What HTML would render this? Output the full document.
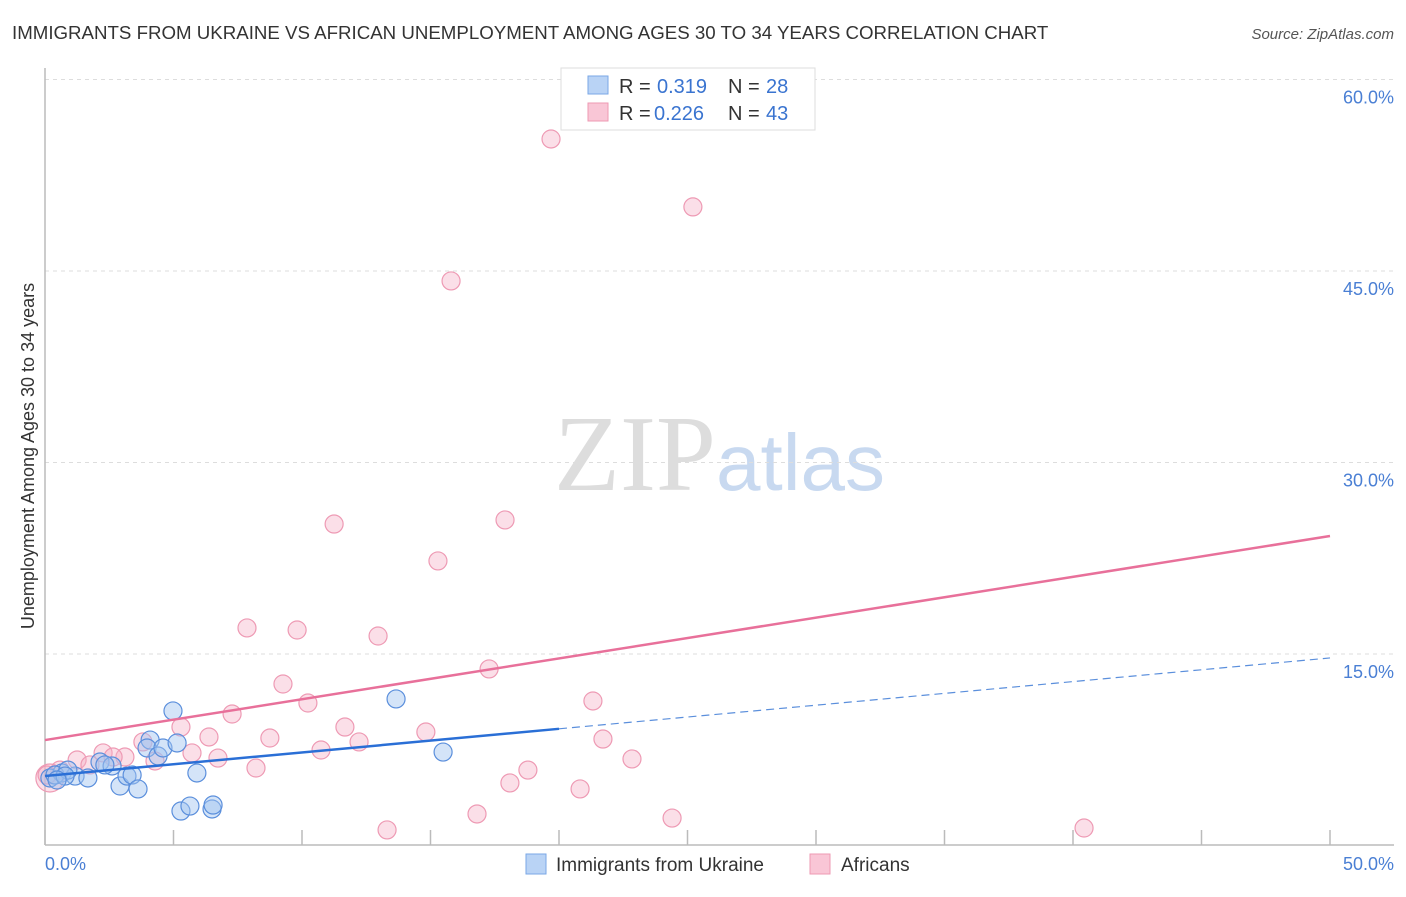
<!DOCTYPE html>
<html><head><meta charset="utf-8"><style>
body{margin:0;background:#fff;font-family:"Liberation Sans",sans-serif;}
</style></head><body>
<svg id="c" width="1406" height="892" xmlns="http://www.w3.org/2000/svg">
<text x="12" y="39" font-size="18.7" fill="#333">IMMIGRANTS FROM UKRAINE VS AFRICAN UNEMPLOYMENT AMONG AGES 30 TO 34 YEARS CORRELATION CHART</text>
<text x="1394" y="39" font-size="15" fill="#555" font-style="italic" text-anchor="end">Source: ZipAtlas.com</text>
<text x="716" y="490" font-size="108" fill="#ddd" text-anchor="end" font-family="Liberation Serif,serif">ZIP</text>
<text x="716" y="490" font-size="80" fill="#c8d9f0">atlas</text>
<g id="grid"></g><g id="axes"></g><g id="pts"></g><g id="lines"></g>
<text transform="translate(34,456) rotate(-90)" font-size="18" fill="#333" text-anchor="middle">Unemployment Among Ages 30 to 34 years</text>
<text x="45" y="870" font-size="18" fill="#4a7fd4">0.0%</text>
<text x="1394" y="870" font-size="18" fill="#4a7fd4" text-anchor="end">50.0%</text>
<g>
<rect x="561" y="68" width="254" height="62" fill="#fff" stroke="#ddd"/>
<rect x="588" y="76" width="20" height="18" fill="#b9d3f5" stroke="#7aa7e6"/>
<rect x="588" y="103" width="20" height="18" fill="#f9c6d6" stroke="#ee99b3"/>
<text x="619" y="93" font-size="20" fill="#333">R =</text>
<text x="657" y="93" font-size="20" fill="#3a74d0">0.319</text>
<text x="728" y="93" font-size="20" fill="#333">N =</text>
<text x="766" y="93" font-size="20" fill="#3a74d0">28</text>
<text x="619" y="120" font-size="20" fill="#333">R =</text>
<text x="654" y="120" font-size="20" fill="#3a74d0">0.226</text>
<text x="728" y="120" font-size="20" fill="#333">N =</text>
<text x="766" y="120" font-size="20" fill="#3a74d0">43</text>
</g>
<g>
<rect x="526" y="854" width="20" height="20" fill="#b9d3f5" stroke="#7aa7e6"/>
<text x="556" y="871" font-size="19" fill="#333">Immigrants from Ukraine</text>
<rect x="810" y="854" width="20" height="20" fill="#f9c6d6" stroke="#ee99b3"/>
<text x="841" y="871" font-size="19" fill="#333">Africans</text>
</g>
</svg>
<script>
const yTicks=[15,30,45,60];
const yTickLabels=["15.0%","30.0%","45.0%","60.0%"];
const blueX=[0.19,0.66,1.17,1.67,2.14,2.61,2.92,3.19,3.39,3.62,4.09,3.97,4.40,4.59,4.98,5.14,5.29,5.64,5.91,6.50,6.54,13.66,15.49,0.39,0.89,2.33,0.78,0.47];
const blueY=[5.29,5.68,5.44,5.29,6.54,6.23,4.66,5.44,5.52,4.43,8.26,7.64,7.01,7.64,10.54,8.03,2.70,3.09,5.68,2.86,3.17,11.48,7.32,5.52,5.91,6.31,5.44,5.13];
const pinkX=[19.69,25.21,15.80,11.25,17.90,15.29,7.86,9.81,12.96,17.28,9.26,10.23,21.32,7.28,11.67,5.29,6.38,14.82,8.75,10.74,12.22,3.81,4.28,5.72,6.73,21.71,22.84,18.79,8.21,18.09,20.82,16.81,13.31,24.40,40.43,2.26,1.25,3.11,1.75,0.58,0.19,0.08,2.65];
const pinkY=[55.34,50.02,44.22,25.18,25.50,22.29,17.04,16.88,16.41,13.83,12.65,11.16,11.32,10.30,9.28,9.28,8.50,8.89,8.42,7.48,8.11,8.11,6.62,7.25,6.85,8.34,6.78,5.91,6.07,4.90,4.43,2.47,1.22,2.15,1.37,7.25,6.70,6.93,6.31,5.91,5.29,5.52,6.93];
const pinkTrend=[8.26,24.24];
const blueTrend=[5.44,14.69];
const blueSolidEnd=20;
const NS="http://www.w3.org/2000/svg";
const X=v=>45+v/50*1285, Y=v=>845.5-v/15*191.5;
function mk(t,a,p){const e=document.createElementNS(NS,t);for(const k in a)e.setAttribute(k,a[k]);document.getElementById(p).appendChild(e);return e;}
yTicks.forEach((t,i)=>{
 const l=mk('line',{x1:45,x2:1394,y1:Y(t),y2:Y(t),stroke:'#ddd','stroke-dasharray':'4,4'},'grid');
 
 
 const tx=mk('text',{x:1394,y:Y(t)+24,'font-size':18,fill:'#4a7fd4','text-anchor':'end'},'grid');
 tx.textContent=yTickLabels[i];
 
 
});
const a1=mk('line',{x1:45,x2:45,y1:68,y2:845,stroke:'#bbb','stroke-width':1.5},'axes');


const a2=mk('line',{x1:45,x2:1394,y1:845,y2:845,stroke:'#bbb','stroke-width':1.5},'axes');


for(let i=0;i<=10;i++){const t=mk('line',{x1:X(i*5),x2:X(i*5),y1:830,y2:845,stroke:'#bbb','stroke-width':1.5},'axes');
 
 }
pinkX.forEach((v,i)=>{const c=mk('circle',{cx:X(v),cy:Y(pinkY[i]),r:i==40?14:9,fill:'rgba(246,176,198,0.4)',stroke:'#ee9ab4','stroke-width':1.2},'pts');
 
 });
blueX.forEach((v,i)=>{const c=mk('circle',{cx:X(v),cy:Y(blueY[i]),r:9,fill:'rgba(160,196,240,0.45)',stroke:'#5b8fdc','stroke-width':1.2},'pts');
 
 });
const pl=mk('line',{x1:X(0),y1:Y(pinkTrend[0]),x2:X(50),y2:Y(pinkTrend[1]),stroke:'#e8709a','stroke-width':2.5},'lines');


const bAt=v=>blueTrend[0]+(blueTrend[1]-blueTrend[0])*v/50;
const bl=mk('line',{x1:X(0),y1:Y(blueTrend[0]),x2:X(blueSolidEnd),y2:Y(bAt(blueSolidEnd)),stroke:'#2a6fd6','stroke-width':2.5},'lines');


const bd=mk('line',{x1:X(blueSolidEnd),y1:Y(bAt(blueSolidEnd)),x2:X(50),y2:Y(blueTrend[1]),stroke:'#5b8fdc','stroke-width':1.2,'stroke-dasharray':'8,5'},'lines');


</script>
</body></html>
